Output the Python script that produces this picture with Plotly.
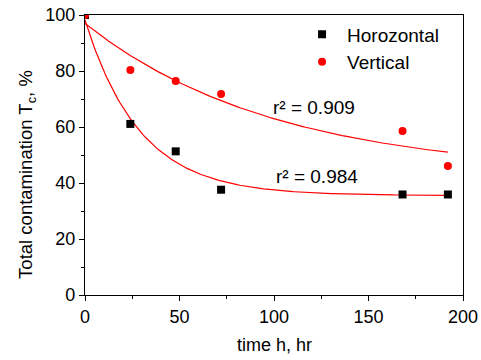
import numpy as np
import plotly.graph_objects as go

time_h = [0, 24, 48, 72, 168, 192]
horizontal = [100, 61.1, 51.3, 37.6, 35.9, 35.9]
vertical = [100, 80.4, 76.4, 71.8, 58.6, 46.1]

# exponential decay fit parameters y = y0 + A*exp(-x/t)
fit_h = dict(y0=35.5, A=62.7, t=29.0)
fit_v = dict(y0=43.0, A=54.0, t=100.5)
r2_h = "r² = 0.984"
r2_v = "r² = 0.909"

xs = np.linspace(0, 192, 200)
def model(p):
    return p["y0"] + p["A"] * np.exp(-xs / p["t"])

font = "Liberation Sans, Arial, sans-serif"
fig = go.Figure()
fig.add_trace(go.Scatter(x=xs, y=model(fit_v), mode="lines", line=dict(color="red", width=1.2), showlegend=False, hoverinfo="skip"))
fig.add_trace(go.Scatter(x=xs, y=model(fit_h), mode="lines", line=dict(color="red", width=1.2), showlegend=False, hoverinfo="skip"))
fig.add_trace(go.Scatter(x=time_h, y=horizontal, mode="markers", name="Horozontal",
                         marker=dict(symbol="square", size=8, color="black")))
fig.add_trace(go.Scatter(x=time_h, y=vertical, mode="markers", name="Vertical",
                         marker=dict(symbol="circle", size=8, color="red")))

fig.add_annotation(x=121, y=67.1, text=r2_v, showarrow=False, xanchor="center", yanchor="middle",
                   font=dict(size=19, color="black", family=font))
fig.add_annotation(x=122.5, y=42.5, text=r2_h, showarrow=False, xanchor="center", yanchor="middle",
                   font=dict(size=19, color="black", family=font))
# axis titles
fig.add_annotation(xref="paper", yref="paper", x=0, xshift=-58, y=0.429, text="Total contamination T<sub>c</sub>, %",
                   textangle=-90, showarrow=False, xanchor="center", yanchor="middle",
                   font=dict(size=18.5, color="black", family=font))
fig.add_annotation(xref="paper", yref="paper", x=0.5, y=-0.1786, text="time h, hr",
                   showarrow=False, xanchor="center", yanchor="middle",
                   font=dict(size=18, color="black", family=font))

axis_common = dict(showline=True, linecolor="black", linewidth=1.3, mirror=True, ticks="outside",
                   ticklen=5, tickcolor="black", showgrid=False, zeroline=False, automargin=False,
                   ticklabeloverflow="allow",
                   tickfont=dict(size=18, color="black", family=font))
fig.update_xaxes(range=[0, 200], dtick=50,
                 minor=dict(ticks="outside", ticklen=3, dtick=25, tickcolor="black"), **axis_common)
fig.update_yaxes(range=[0, 100], dtick=20,
                 minor=dict(ticks="outside", ticklen=3, dtick=10, tickcolor="black"), **axis_common)

fig.update_layout(width=481, height=360, margin=dict(l=85, r=18, t=15, b=65, autoexpand=False),
                  plot_bgcolor="white", paper_bgcolor="white",
                  font=dict(family=font, color="black"),
                  legend=dict(x=0.561, y=0.999, xanchor="left", yanchor="top", bgcolor="rgba(0,0,0,0)",
                              font=dict(size=19, color="black", family=font), itemwidth=40, tracegroupgap=0))
fig.write_html("out.html", config={"displayModeBar": False},
               post_script="document.body.style.margin='0';document.body.style.overflow='hidden';")
